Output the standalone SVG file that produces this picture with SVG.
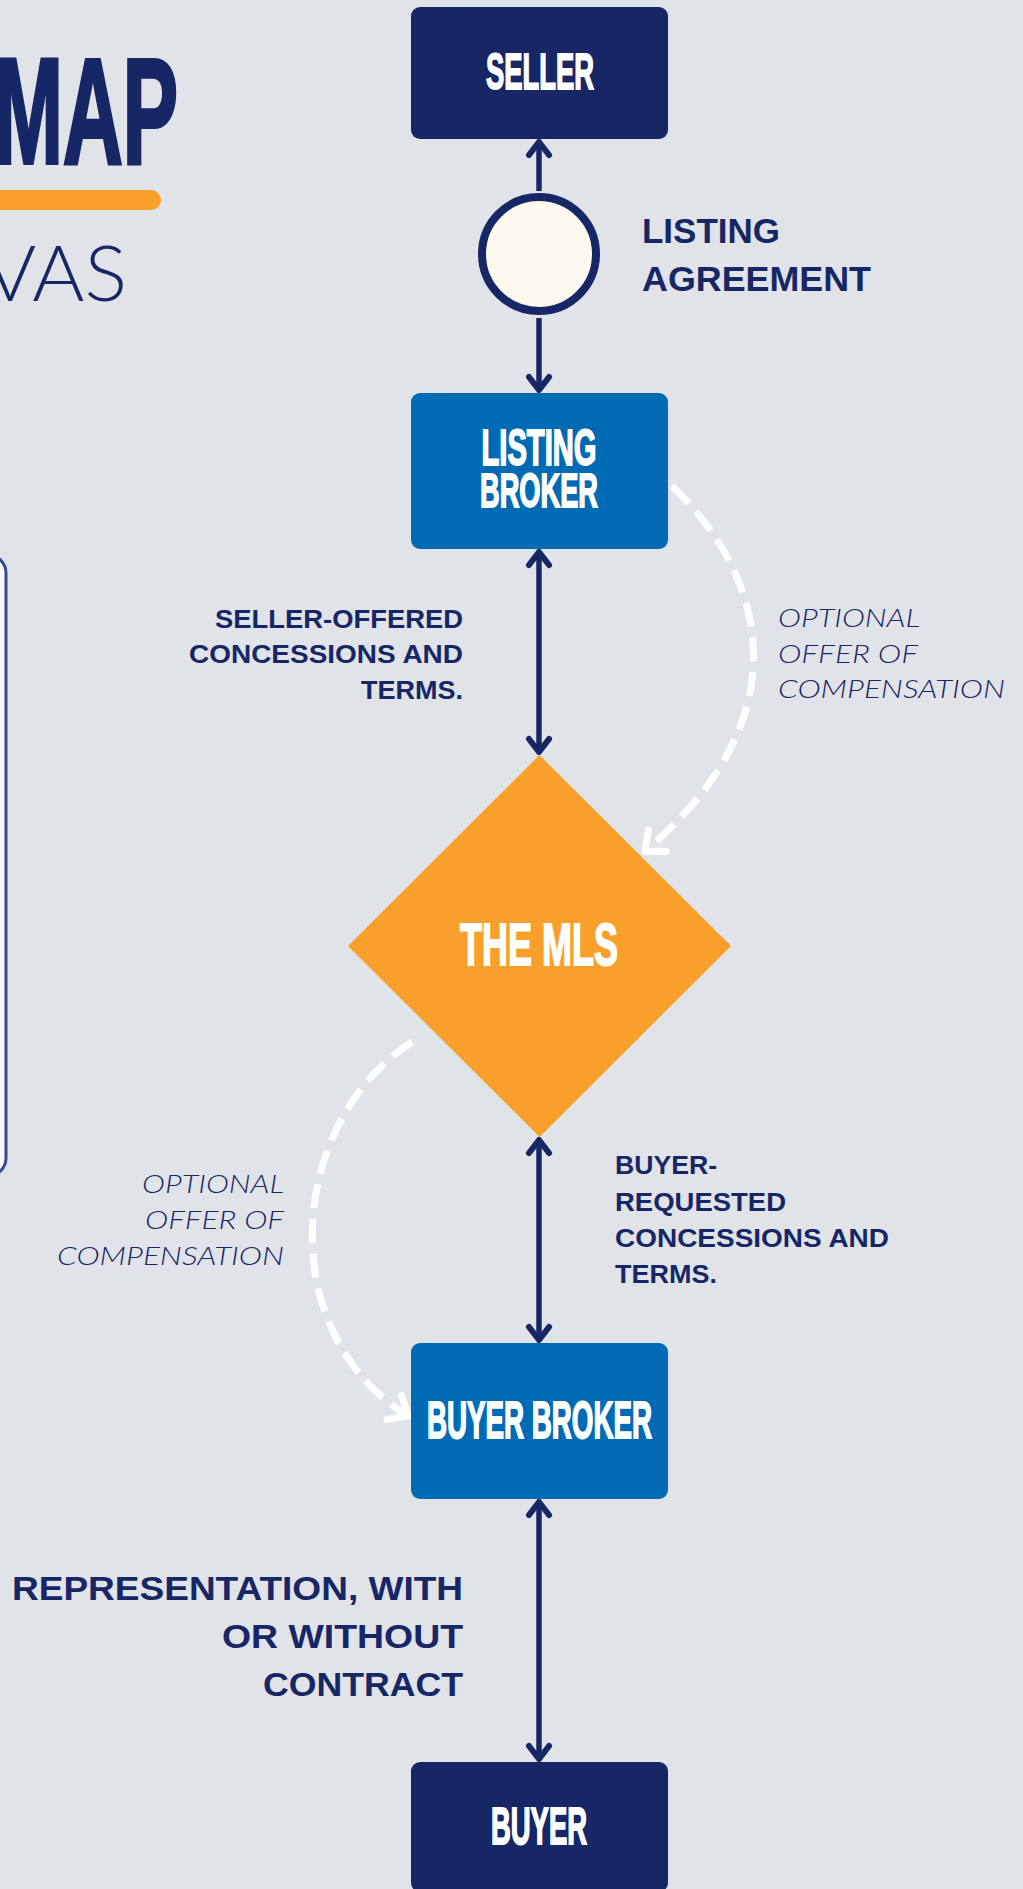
<svg xmlns="http://www.w3.org/2000/svg" width="1023" height="1889" viewBox="0 0 1023 1889">
<style>
.node-t{font-family:"Liberation Sans",Arial,sans-serif;font-weight:700;fill:#ffffff;stroke:#ffffff;stroke-width:1.8;text-anchor:middle}
.lbl{font-family:"Liberation Sans",Arial,sans-serif;font-weight:700;fill:#172766}
.opt{font-family:"Lato","Open Sans",sans-serif;font-weight:300;font-style:italic;fill:#172766}
.nav{fill:none;stroke:#172766;stroke-width:5.5}
.dash{fill:none;stroke:#ffffff;stroke-width:7;stroke-dasharray:24 11}
</style>
<defs>
<marker id="ah" markerUnits="userSpaceOnUse" markerWidth="40" markerHeight="40" viewBox="-20 -20 40 40" refX="0" refY="0" orient="auto-start-reverse">
<path d="M-13,-10 L0,0 L-13,10" fill="none" stroke="#172766" stroke-width="6" stroke-linecap="round" stroke-linejoin="round"/>
</marker>
<marker id="wh" markerUnits="userSpaceOnUse" markerWidth="50" markerHeight="50" viewBox="-25 -25 50 50" refX="0" refY="0" orient="auto">
<path d="M-16,-14 L0,0 L-16,14" fill="none" stroke="#ffffff" stroke-width="7" stroke-linecap="round" stroke-linejoin="round"/>
</marker>
</defs>
<rect x="0" y="0" width="1023" height="1889" fill="#E0E3E8"/>

<g id="title">
<text x="-6" y="163" font-family="'Liberation Sans',Arial,sans-serif" font-weight="700" font-size="151" fill="#172766" stroke="#172766" stroke-width="4" textLength="184" lengthAdjust="spacingAndGlyphs">MAP</text>
<rect x="-20" y="190" width="181" height="20" rx="10" fill="#F9A02C"/>
<text x="-16" y="301" font-family="Lato,'Open Sans',sans-serif" font-weight="300" font-size="76" fill="#172766" textLength="143" lengthAdjust="spacingAndGlyphs">VAS</text>
</g>

<g id="side-panel">
<rect x="-40" y="555" width="46" height="621" rx="18" fill="#F8F9FB" stroke="#394A8C" stroke-width="3"/>
</g>

<g id="connectors">
<path class="nav" d="M539,191 L539,142" marker-end="url(#ah)"/>
<path class="nav" d="M539,318 L539,390" marker-end="url(#ah)"/>
<path class="nav" d="M539,552 L539,752" marker-start="url(#ah)" marker-end="url(#ah)"/>
<path class="nav" d="M539,1140 L539,1340" marker-start="url(#ah)" marker-end="url(#ah)"/>
<path class="nav" d="M539,1502 L539,1759" marker-start="url(#ah)" marker-end="url(#ah)"/>
<path class="dash" d="M672,486 C780,590 790,730 645,851" marker-end="url(#wh)"/>
<path class="dash" d="M412,1042 C290,1120 270,1330 408,1416" marker-end="url(#wh)"/>
</g>

<g id="seller">
<rect x="411" y="7" width="257" height="132" rx="9" fill="#172766"/>
<text class="node-t" x="540" y="89" font-size="50" textLength="108" lengthAdjust="spacingAndGlyphs">SELLER</text>
</g>

<g id="listing-agreement">
<circle cx="539" cy="254" r="57" fill="#FEF9EE" stroke="#172766" stroke-width="8"/>
</g>

<g id="listing-broker">
<rect x="411" y="393" width="257" height="156" rx="9" fill="#006BB5"/>
<text class="node-t" x="539" y="465" font-size="50" textLength="115" lengthAdjust="spacingAndGlyphs">LISTING</text>
<text class="node-t" x="539" y="507" font-size="48" textLength="118" lengthAdjust="spacingAndGlyphs">BROKER</text>
</g>

<g id="mls">
<polygon points="539.5,755 731,946 539.5,1137 348,946" fill="#F9A02C"/>
<text class="node-t" x="539" y="965" font-size="60" textLength="158" lengthAdjust="spacingAndGlyphs">THE MLS</text>
</g>

<g id="buyer-broker">
<rect x="411" y="1343" width="257" height="156" rx="9" fill="#006BB5"/>
<text class="node-t" x="539.5" y="1438" font-size="51" textLength="225" lengthAdjust="spacingAndGlyphs">BUYER BROKER</text>
</g>

<g id="buyer">
<rect x="411" y="1762" width="257" height="130" rx="9" fill="#172766"/>
<text class="node-t" x="539" y="1844" font-size="51" textLength="96" lengthAdjust="spacingAndGlyphs">BUYER</text>
</g>

<g id="labels">
<text class="lbl" x="642" y="243" font-size="35" textLength="138" lengthAdjust="spacingAndGlyphs">LISTING</text>
<text class="lbl" x="642" y="291" font-size="35" textLength="229" lengthAdjust="spacingAndGlyphs">AGREEMENT</text>

<text class="lbl" x="215" y="628" font-size="26" textLength="248" lengthAdjust="spacingAndGlyphs">SELLER-OFFERED</text>
<text class="lbl" x="189" y="663" font-size="26" textLength="274" lengthAdjust="spacingAndGlyphs">CONCESSIONS AND</text>
<text class="lbl" x="361" y="699" font-size="26" textLength="102" lengthAdjust="spacingAndGlyphs">TERMS.</text>

<text class="opt" x="778" y="627" font-size="25" textLength="142" lengthAdjust="spacingAndGlyphs">OPTIONAL</text>
<text class="opt" x="778" y="663" font-size="25" textLength="140" lengthAdjust="spacingAndGlyphs">OFFER OF</text>
<text class="opt" x="778" y="698" font-size="25" textLength="227" lengthAdjust="spacingAndGlyphs">COMPENSATION</text>

<text class="opt" x="142" y="1193" font-size="25" textLength="142" lengthAdjust="spacingAndGlyphs">OPTIONAL</text>
<text class="opt" x="145" y="1229" font-size="25" textLength="139" lengthAdjust="spacingAndGlyphs">OFFER OF</text>
<text class="opt" x="57" y="1265" font-size="25" textLength="227" lengthAdjust="spacingAndGlyphs">COMPENSATION</text>

<text class="lbl" x="615" y="1174" font-size="26" textLength="102" lengthAdjust="spacingAndGlyphs">BUYER-</text>
<text class="lbl" x="615" y="1211" font-size="26" textLength="171" lengthAdjust="spacingAndGlyphs">REQUESTED</text>
<text class="lbl" x="615" y="1247" font-size="26" textLength="274" lengthAdjust="spacingAndGlyphs">CONCESSIONS AND</text>
<text class="lbl" x="615" y="1283" font-size="26" textLength="102" lengthAdjust="spacingAndGlyphs">TERMS.</text>

<text class="lbl" x="12" y="1600" font-size="33" textLength="451" lengthAdjust="spacingAndGlyphs">REPRESENTATION, WITH</text>
<text class="lbl" x="222" y="1648" font-size="33" textLength="241" lengthAdjust="spacingAndGlyphs">OR WITHOUT</text>
<text class="lbl" x="263" y="1696" font-size="33" textLength="200" lengthAdjust="spacingAndGlyphs">CONTRACT</text>
</g>
</svg>
